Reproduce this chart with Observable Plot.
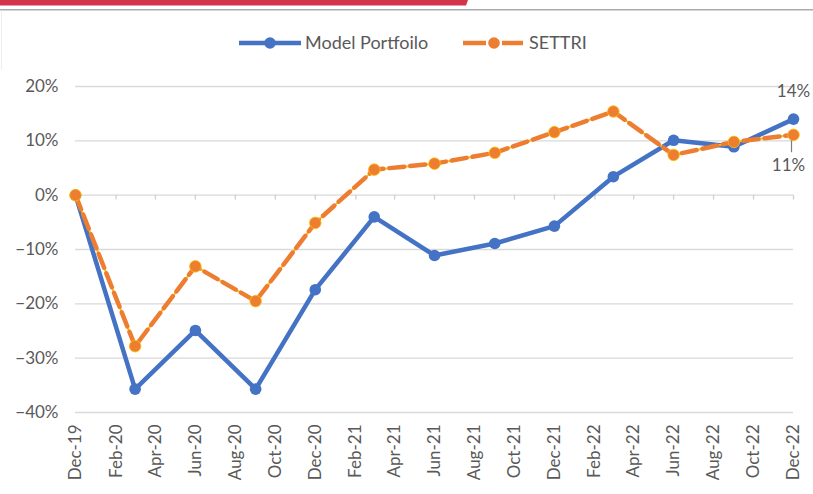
<!DOCTYPE html>
<html>
<head>
<meta charset="utf-8">
<script src="https://cdn.jsdelivr.net/npm/d3@7"></script>
<script src="https://cdn.jsdelivr.net/npm/@observablehq/plot@0.6"></script>
<style>
  html, body { margin: 0; padding: 0; background: #fff; }
  #wrap { position: relative; width: 813px; height: 494px; overflow: hidden; font-family: Lato, "Open Sans", sans-serif; }
  #wrap > svg { position: absolute; left: 0; top: 0; }
</style>
</head>
<body>
<div id="wrap">
  <svg id="header" width="813" height="70" style="position:absolute;left:0;top:0">
    <polygon points="0,0 468,0 466,5.5 0,5.5" fill="#D3344A"></polygon>
    <rect x="0" y="9" width="813" height="1.5" fill="#ababab"></rect>
    <rect x="1" y="10.5" width="1" height="484" fill="#eeeeee"></rect>
    <g id="legend"></g>
  </svg>
</div>
<script>
// ---- data ----
const quarters = ["2019-12","2020-03","2020-06","2020-09","2020-12","2021-03","2021-06","2021-09","2021-12","2022-03","2022-06","2022-09","2022-12"];
const modelPortfolio = [0, -0.357, -0.249, -0.357, -0.174, -0.040, -0.111, -0.089, -0.057, 0.034, 0.101, 0.089, 0.140];
const settri = [0, -0.278, -0.131, -0.195, -0.051, 0.047, 0.058, 0.078, 0.116, 0.154, 0.074, 0.098, 0.111];
const seriesNames = ["Model Portfoilo", "SETTRI"];
const xTickLabels = ["Dec-19","Feb-20","Apr-20","Jun-20","Aug-20","Oct-20","Dec-20","Feb-21","Apr-21","Jun-21","Aug-21","Oct-21","Dec-21","Feb-22","Apr-22","Jun-22","Aug-22","Oct-22","Dec-22"];
const yTicks = [-0.4, -0.3, -0.2, -0.1, 0, 0.1, 0.2];

const BLUE = "#4472C4", ORANGE = "#ED7D31", YELLOW = "#FFC000", TEXT = "#595959";

const parseQ = d3.utcParse("%Y-%m");
const data = quarters.map((q, i) => ({date: parseQ(q), model: modelPortfolio[i], settri: settri[i]}));
const tickDates = xTickLabels.map(d3.utcParse("%b-%y"));
const pct = d3.format(".0%");
const last = [data[data.length - 1]];

const chart = Plot.plot({
  width: 813, height: 494,
  marginTop: 86, marginBottom: 82, marginLeft: 75, marginRight: 20,
  x: {type: "utc", domain: [tickDates[0], tickDates[tickDates.length - 1]]},
  y: {domain: [-0.4, 0.2]},
  style: {fontFamily: "Lato, 'Open Sans', sans-serif", fontSize: "17px", color: TEXT, background: "transparent"},
  marks: [
    Plot.gridY(yTicks, {stroke: "#d9d9d9", strokeOpacity: 1, strokeWidth: 1.3}),
    Plot.ruleX(tickDates, {x: d => d, y1: 0, y2: -0.009, stroke: "#d0d0d0", strokeWidth: 1.3}),
    Plot.axisY(yTicks, {tickFormat: pct, tickSize: 0, tickPadding: 17, fill: TEXT}),
    Plot.axisX(tickDates, {tickFormat: d3.utcFormat("%b-%y"), tickRotate: -90, tickSize: 0, tickPadding: 12, fill: TEXT}),
    Plot.line(data, {x: "date", y: "model", stroke: BLUE, strokeWidth: 4.5}),
    Plot.dot(data, {x: "date", y: "model", r: 5.8, fill: BLUE}),
    Plot.line(data, {x: "date", y: "settri", stroke: YELLOW, strokeWidth: 2}),
    Plot.line(data, {x: "date", y: "settri", stroke: ORANGE, strokeWidth: 4.5, strokeDasharray: "15,6"}),
    Plot.dot(data, {x: "date", y: "settri", r: 5.8, fill: ORANGE, stroke: YELLOW, strokeWidth: 0.8}),
    Plot.text(last, {x: "date", y: "model", text: d => pct(d.model), dy: -28, fill: TEXT, fontSize: 17}),
    Plot.link(last, {x1: "date", x2: "date", y1: d => d.settri - 0.010, y2: d => d.settri - 0.032, dx: -2, stroke: "#7f7f7f", strokeWidth: 1.2}),
    Plot.text(last, {x: "date", y: "settri", text: d => pct(d.settri), dy: 31, dx: -5, fill: TEXT, fontSize: 17})
  ]
});
document.getElementById("wrap").appendChild(chart);

// ---- legend ----
const lg = d3.select("#legend");
const items = [
  {name: seriesNames[0], color: BLUE, x0: 239, x1: 301, cx: 270, tx: 305, dash: false},
  {name: seriesNames[1], color: ORANGE, x0: 463, x1: 523, cx: 494, tx: 529, dash: true}
];
for (const it of items) {
  const g = lg.append("g");
  if (it.dash) {
    g.append("line").attr("x1", it.x0).attr("x2", it.cx - 8).attr("y1", 43).attr("y2", 43)
      .attr("stroke", it.color).attr("stroke-width", 4.5);
    g.append("line").attr("x1", it.cx + 8).attr("x2", it.x1).attr("y1", 43).attr("y2", 43)
      .attr("stroke", it.color).attr("stroke-width", 4.5);
  } else {
    g.append("line").attr("x1", it.x0).attr("x2", it.x1).attr("y1", 43).attr("y2", 43)
      .attr("stroke", it.color).attr("stroke-width", 4.5);
  }
  g.append("circle").attr("cx", it.cx).attr("cy", 43).attr("r", 5.8).attr("fill", it.color);
  g.append("text").attr("x", it.tx).attr("y", 43).attr("dy", "0.35em")
    .attr("font-family", "Lato, 'Open Sans', sans-serif").attr("font-size", 18).attr("fill", TEXT)
    .text(it.name);
}
</script>
</body>
</html>
